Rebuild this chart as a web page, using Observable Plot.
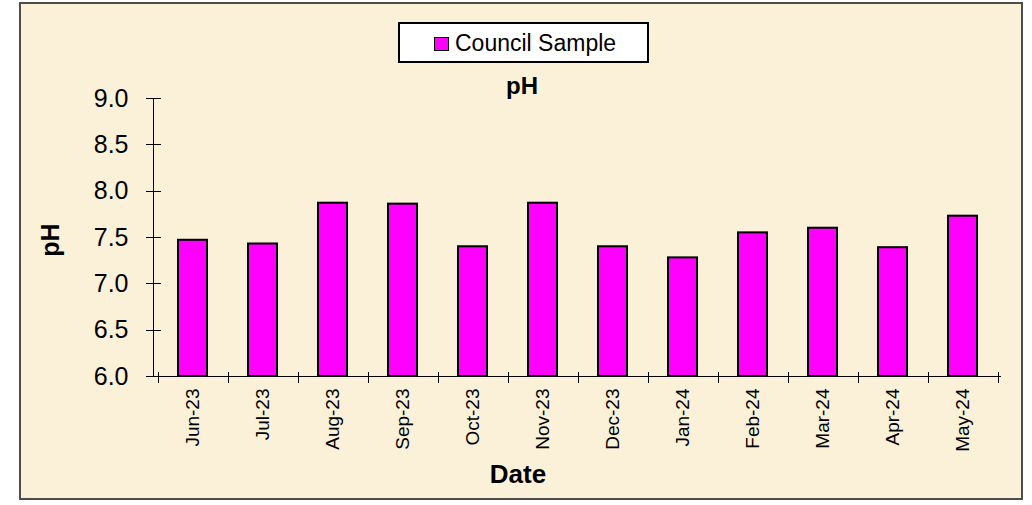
<!DOCTYPE html>
<html>
<head>
<meta charset="utf-8">
<script src="https://cdn.jsdelivr.net/npm/d3@7"></script>
<script src="https://cdn.jsdelivr.net/npm/@observablehq/plot@0.6"></script>
<style>
  body { margin: 0; background: #ffffff; font-family: "Liberation Sans", Arial, sans-serif; }
  #wrap { position: relative; width: 1032px; height: 505px; overflow: hidden; background: #ffffff; }
  #frame { position: absolute; left: 19px; top: 2px; width: 1004px; height: 498px; box-sizing: border-box;
           border: 2px solid #4d4d4d; background: #fbf0d8; }
  #chart { position: absolute; left: 0; top: 0; }
  #legend { position: absolute; left: 398px; top: 22px; width: 251px; height: 41px; box-sizing: border-box;
            border: 2px solid #000; background: #fff; font-size: 23px; color: #000; }
  #legend .sw { position: absolute; left: 34px; top: 13px; width: 15px; height: 14px; box-sizing: border-box;
                border: 1px solid #000; background: #ff00ff; }
  #legend .lb { position: absolute; left: 55px; top: 6px; line-height: 26px; white-space: nowrap; }
</style>
</head>
<body>
<div id="wrap">
  <div id="frame"></div>
  <div id="chart"></div>
  <div id="legend"><div class="sw"></div><div class="lb"></div></div>
</div>
<script>
// ---- data ----
const months = ["Jun-23", "Jul-23", "Aug-23", "Sep-23", "Oct-23", "Nov-23",
                "Dec-23", "Jan-24", "Feb-24", "Mar-24", "Apr-24", "May-24"];
const phValues = [7.47, 7.43, 7.87, 7.86, 7.40, 7.87, 7.40, 7.28, 7.55, 7.60, 7.39, 7.73];
const yTicks = [6.0, 6.5, 7.0, 7.5, 8.0, 8.5, 9.0];
const seriesName = "Council Sample";
const chartTitle = "pH";
const yTitle = "pH";
const xTitle = "Date";

const data = months.map((m, i) => ({ month: m, value: phValues[i] }));
const font = "Liberation Sans, Arial, sans-serif";

const plot = Plot.plot({
  width: 1032,
  height: 505,
  marginLeft: 153,
  marginRight: 31,
  marginTop: 98,
  marginBottom: 129,
  style: { background: "transparent", fontFamily: font, color: "#000", overflow: "visible" },
  x: { domain: months, paddingInner: 0.59, paddingOuter: 0.295, label: null },
  y: { domain: [yTicks[0], yTicks[yTicks.length - 1]], label: null },
  marks: [
    Plot.barY(data, { x: "month", y1: yTicks[0], y2: "value", fill: "#ff00ff", stroke: "#000", strokeWidth: 2 }),
    Plot.axisY({ ticks: yTicks, tickFormat: d => d.toFixed(1), tickSize: 0, tickPadding: 25, fontSize: 25, label: null }),
    Plot.axisX({ tickSize: 0, tickRotate: -90, tickPadding: 12, fontSize: 19, label: null })
  ]
});

document.getElementById("chart").appendChild(plot);
document.querySelector("#legend .lb").textContent = seriesName;

// ---- axis lines and crossing ticks from the plot's own scales ----
const xs = plot.scale("x");
const ys = plot.scale("y");
const svg = d3.select(plot);
const g = svg.append("g").attr("stroke", "#000").attr("stroke-width", 1).attr("shape-rendering", "crispEdges");
const x0 = Math.round(xs.range[0]) + 0.5;
const yTop = Math.round(ys.apply(yTicks[yTicks.length - 1])) + 0.5;
const yBot = Math.round(ys.apply(yTicks[0])) + 0.5;
const xEnd = xs.range[1];
g.append("line").attr("x1", x0).attr("x2", x0).attr("y1", yTop).attr("y2", yBot);
g.append("line").attr("x1", x0 - 8).attr("x2", xEnd).attr("y1", yBot).attr("y2", yBot);
for (const t of yTicks) {
  const yy = Math.round(ys.apply(t)) + 0.5;
  g.append("line").attr("x1", x0 - 8).attr("x2", x0 + 7).attr("y1", yy).attr("y2", yy);
}
const step = xs.step ?? (xs.range[1] - xs.range[0]) / months.length;
const gap = step - xs.bandwidth;
const bounds = months.map(m => xs.apply(m) - gap / 2);
bounds.push(xs.apply(months[months.length - 1]) + xs.bandwidth + gap / 2);
for (const bx of bounds) {
  const bxx = Math.round(bx) + 0.5;
  g.append("line").attr("x1", bxx).attr("x2", bxx).attr("y1", yBot - 5).attr("y2", yBot + 6);
}

// ---- titles ----
svg.append("text").attr("x", 522).attr("y", 94).attr("text-anchor", "middle")
  .attr("font-size", 24).attr("font-weight", "bold").attr("font-family", font).attr("fill", "#000").text(chartTitle);
svg.append("text").attr("transform", "translate(59,240) rotate(-90)").attr("text-anchor", "middle")
  .attr("font-size", 25).attr("font-weight", "bold").attr("font-family", font).attr("fill", "#000").text(yTitle);
svg.append("text").attr("x", 518).attr("y", 483).attr("text-anchor", "middle")
  .attr("font-size", 26).attr("font-weight", "bold").attr("font-family", font).attr("fill", "#000").text(xTitle);
</script>
</body>
</html>
